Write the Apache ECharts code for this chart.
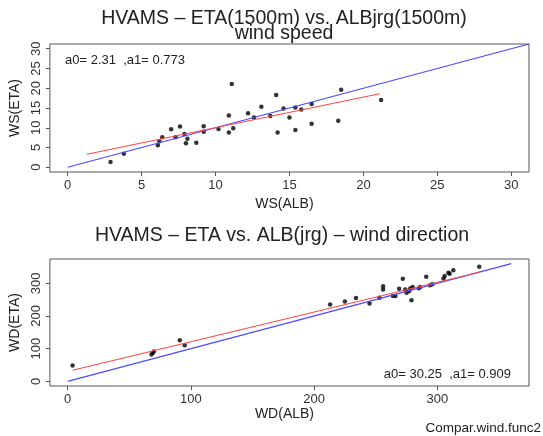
<!DOCTYPE html>
<html>
<head>
<meta charset="utf-8">
<script src="https://cdn.jsdelivr.net/npm/echarts@6/dist/echarts.min.js"></script>
<style>
    html, body { margin: 0; padding: 0; background: #fff; }
    #chart { width: 543px; height: 436px; }
</style>
</head>
<body>
<div id="chart"></div>
<script>
// wind speed (upper panel)
const wsAlb = [2.9, 3.8, 6.1, 6.2, 6.4, 7.0, 7.3, 7.6, 7.9, 8.1, 8.0, 8.7, 9.2, 9.2, 10.2, 10.9, 10.9, 11.1, 11.2, 12.2,
    12.6, 13.1, 13.7, 14.1, 14.2, 14.6, 15.0, 15.4, 15.4, 15.8, 16.5, 16.5, 18.3, 18.5, 21.2]
const wsEta = [1.3, 3.4, 5.6, 6.6, 7.6, 9.6, 7.6, 10.3, 8.4, 7.2, 6.1, 6.2, 9.0, 10.4, 9.7, 13.1, 8.8, 21.1, 9.9, 13.7,
    12.6, 15.3, 13.0, 18.3, 8.8, 14.9, 12.6, 15.1, 9.4, 14.6, 16.0, 11.0, 11.8, 19.6, 17.0]
const wsFit = [[1.3, 3.3], [21.1, 18.6]]
const wsOneToOne = [[0, 0], [31.2, 31.2]]
const wsTicks = [0, 5, 10, 15, 20, 25, 30]

// wind direction (lower panel)
const wdAlb = [4, 68, 69, 70, 91, 95, 213, 225, 234, 245, 253, 256, 256, 264, 266, 269, 272, 274, 275, 277,
    278, 279, 280, 285, 286, 291, 294, 296, 305, 306, 309, 310, 313, 334]
const wdEta = [48, 82, 87, 91, 126, 110, 235, 244, 255, 238, 256, 291, 281, 261, 261, 283, 314, 281, 271, 276,
    284, 248, 289, 285, 289, 320, 294, 297, 315, 322, 332, 329, 340, 351]
const wdFit = [[4, 33.9], [334, 333.9]]
const wdOneToOne = [[0, 0], [360, 360]]
const wdTicks = [0, 100, 200, 300]

const font = 'Liberation Sans, Arial, sans-serif'

const chart = echarts.init(document.getElementById('chart'))

function zip(xs, ys) {
    return xs.map((x, i) => [x, ys[i]])
}

function axis(gridIndex, min, max, ticks, name, nameGap, isY) {
    return {
        type: 'value',
        gridIndex: gridIndex,
        min: min,
        max: max,
        name: name,
        nameLocation: 'middle',
        nameGap: nameGap,
        nameTextStyle: {
            color: '#222',
            fontSize: 14,
            fontFamily: font,
            // R centres the labels a little left of the box middle
            padding: isY ? 0 : [0, 10, 0, 0]
        },
        axisLine: { show: false, onZero: false },
        axisTick: {
            show: true,
            length: 4,
            customValues: ticks,
            lineStyle: { color: '#555' }
        },
        axisLabel: {
            customValues: ticks,
            color: '#333',
            fontSize: 13,
            fontFamily: font,
            margin: 7,
            rotate: isY ? 90 : 0
        },
        splitLine: { show: false }
    }
}

chart.setOption({
    animation: false,
    backgroundColor: '#fff',
    grid: [
        { left: 46, top: 44, width: 483, height: 128, show: true, borderColor: '#555', borderWidth: 1 },
        { left: 46, top: 259, width: 483, height: 127, show: true, borderColor: '#555', borderWidth: 1 }
    ],
    xAxis: [
        axis(0, -1.2, 31.2, wsTicks, 'WS(ALB)', 25, false),
        axis(1, -14.4, 374.4, wdTicks, 'WD(ALB)', 21, false)
    ],
    yAxis: [
        axis(0, -1.2, 31.2, wsTicks, 'WS(ETA)', 24, true),
        axis(1, -14.4, 374.4, wdTicks, 'WD(ETA)', 24, true)
    ],
    series: [
        {
            type: 'line', xAxisIndex: 0, yAxisIndex: 0, data: wsOneToOne,
            showSymbol: false, lineStyle: { color: '#4a4aff', width: 1.2 }
        },
        {
            type: 'line', xAxisIndex: 0, yAxisIndex: 0, data: wsFit,
            showSymbol: false, lineStyle: { color: '#ff4a4a', width: 1.2 }
        },
        {
            type: 'scatter', xAxisIndex: 0, yAxisIndex: 0, data: zip(wsAlb, wsEta),
            symbolSize: 4.5, itemStyle: { color: '#000' }
        },
        {
            type: 'line', xAxisIndex: 1, yAxisIndex: 1, data: wdOneToOne,
            showSymbol: false, lineStyle: { color: '#4a4aff', width: 1.2 }
        },
        {
            type: 'line', xAxisIndex: 1, yAxisIndex: 1, data: wdFit,
            showSymbol: false, lineStyle: { color: '#ff4a4a', width: 1.2 }
        },
        {
            type: 'scatter', xAxisIndex: 1, yAxisIndex: 1, data: zip(wdAlb, wdEta),
            symbolSize: 4.5, itemStyle: { color: '#000' }
        }
    ],
    graphic: [
        {
            type: 'text', x: 284, y: 19,
            style: { text: 'HVAMS – ETA(1500m) vs. ALBjrg(1500m)', fill: '#222', font: '19.5px ' + font, textAlign: 'center', textVerticalAlign: 'middle' }
        },
        {
            type: 'text', x: 284, y: 34,
            style: { text: 'wind speed', fill: '#222', font: '19.5px ' + font, textAlign: 'center', textVerticalAlign: 'middle' }
        },
        {
            type: 'text', x: 282, y: 236,
            style: { text: 'HVAMS – ETA vs. ALB(jrg) – wind direction', fill: '#222', font: '19.5px ' + font, textAlign: 'center', textVerticalAlign: 'middle' }
        },
        {
            type: 'text', x: 65, y: 60,
            style: { text: 'a0= 2.31  ,a1= 0.773', fill: '#222', font: '13px ' + font, textAlign: 'left', textVerticalAlign: 'middle' }
        },
        {
            type: 'text', x: 511, y: 374,
            style: { text: 'a0= 30.25  ,a1= 0.909', fill: '#222', font: '13px ' + font, textAlign: 'right', textVerticalAlign: 'middle' }
        },
        {
            type: 'text', x: 541, y: 428,
            style: { text: 'Compar.wind.func2', fill: '#222', font: '13.5px ' + font, textAlign: 'right', textVerticalAlign: 'middle' }
        }
    ]
})
</script>
</body>
</html>
